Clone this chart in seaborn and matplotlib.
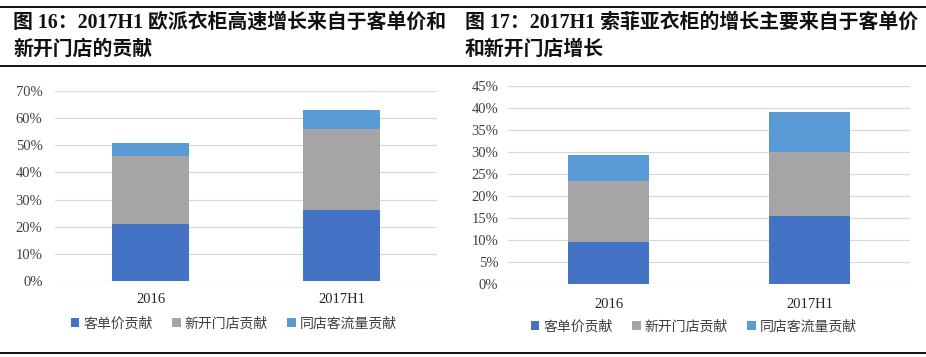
import matplotlib
matplotlib.use('Agg')
import matplotlib.pyplot as plt
import seaborn as sns
import pandas as pd
from matplotlib.patches import Patch
from matplotlib.lines import Line2D
from matplotlib.ticker import FuncFormatter, MultipleLocator

# данные (в %)
periods = ['2016', '2017H1']
series_names = ['客单价贡献', '新开门店贡献', '同店客流量贡献']
colors = ['#4472C4', '#A5A5A5', '#5B9BD5']

# 欧派
oppein_price = [21.0, 26.0]
oppein_new_store = [25.0, 30.0]
oppein_traffic = [5.0, 7.0]

# 索菲亚
sogal_price = [9.5, 15.6]
sogal_new_store = [14.0, 14.5]
sogal_traffic = [5.9, 9.0]

titles = ['图 16：2017H1 欧派衣柜高速增长来自于客单价和\n新开门店的贡献',
          '图 17：2017H1 索菲亚衣柜的增长主要来自于客单价\n和新开门店增长']

sns.set_theme(style='white')
plt.rcParams['font.family'] = ['Liberation Serif', 'Noto Sans CJK SC']

W, H = 926, 357
fig = plt.figure(figsize=(W / 100, H / 100), dpi=100)


def px(x0, y0, x1, y1):
    # пиксели -> доли фигуры
    return [x0 / W, 1 - y1 / H, (x1 - x0) / W, (y1 - y0) / H]


def draw_panel(ax, price, new_store, traffic, ymax, step, xpad, ypad):
    df = pd.DataFrame({'period': periods, 'price': price,
                       'new': new_store, 'traffic': traffic})
    df['lvl1'] = df['price']
    df['lvl2'] = df['price'] + df['new']
    df['lvl3'] = df['lvl2'] + df['traffic']
    # стек: рисуем сверху вниз
    for col, c in zip(['lvl3', 'lvl2', 'lvl1'], colors[::-1]):
        sns.barplot(data=df, x='period', y=col, color=c, width=0.4,
                    saturation=1, ax=ax, zorder=3, linewidth=0, edgecolor='none')
    ax.set_xlim(-0.5, 1.5)
    ax.set_ylim(0, ymax)
    ax.yaxis.set_major_locator(MultipleLocator(step))
    ax.yaxis.set_major_formatter(FuncFormatter(lambda v, p: f'{v:.0f}%'))
    ax.grid(axis='y', color='#D9D9D9', linewidth=0.9, zorder=0)
    ax.set_axisbelow(True)
    for s in ax.spines.values():
        s.set_visible(False)
    ax.set_xlabel('')
    ax.set_ylabel('')
    ax.tick_params(axis='y', length=0, pad=ypad, labelsize=10.5, labelcolor='#404040')
    ax.tick_params(axis='x', length=0, pad=xpad, labelsize=10.5, labelcolor='#262626')


ax1 = fig.add_axes(px(55, 91, 437, 281))
draw_panel(ax1, oppein_price, oppein_new_store, oppein_traffic, 70, 10, 8.5, 9)
ax2 = fig.add_axes(px(508, 86, 910, 284.3))
draw_panel(ax2, sogal_price, sogal_new_store, sogal_traffic, 45, 5, 10, 7)

handles = [Patch(facecolor=c, edgecolor='none') for c in colors]
for ax, cx, cy in [(ax1, 234, 324), (ax2, 694, 327)]:
    ax.legend(handles, series_names, loc='center', ncol=3, frameon=False,
              bbox_to_anchor=(cx / W, 1 - cy / H), bbox_transform=fig.transFigure,
              handlelength=0.6, handleheight=0.6, handletextpad=0.3,
              columnspacing=1.4, prop={'size': 10}, labelcolor='#404040')

# заголовки
for x0, t in zip([13, 465], titles):
    fig.text(x0 / W, 1 - 36 / H, t, fontsize=14.3, fontweight='bold',
             ha='left', va='center', linespacing=1.45, color='#111111')

# разделительные линии
for y in [7, 66, 353]:
    fig.add_artist(Line2D([0, 1], [1 - y / H] * 2, color='black',
                          linewidth=1.3, transform=fig.transFigure))

fig.savefig('out.png', dpi=100, facecolor='white')
